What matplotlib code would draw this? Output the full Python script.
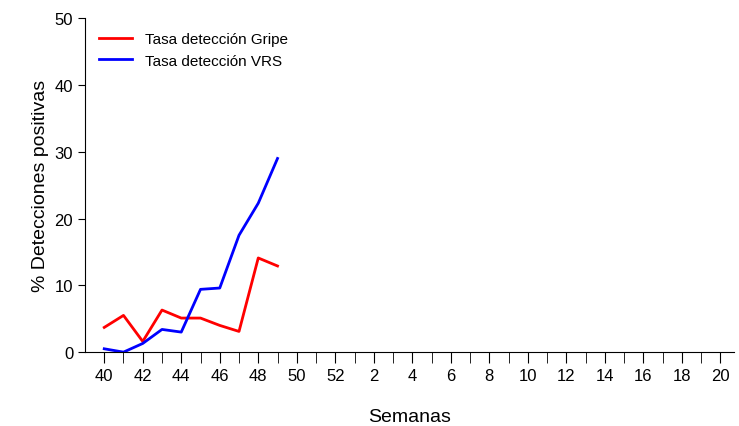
import numpy as np
import matplotlib.pyplot as plt

plt.rcParams["font.family"] = ["Liberation Sans", "DejaVu Sans"]

semanas = list(range(40, 53)) + list(range(1, 21))
gripe = [3.7, 5.5, 1.6, 6.3, 5.1, 5.1, 4.0, 3.1, 14.1, 12.9]
vrs = [0.5, 0.0, 1.3, 3.4, 3.0, 9.4, 9.6, 17.5, 22.3, 29.0]

x = np.arange(len(semanas))

fig, ax = plt.subplots(figsize=(7.39, 4.27), dpi=100)
fig.subplots_adjust(left=0.115, right=0.993, top=0.955, bottom=0.173)

ax.plot(x[:len(gripe)], gripe, color="red", lw=2, label="Tasa detección Gripe")
ax.plot(x[:len(vrs)], vrs, color="blue", lw=2, label="Tasa detección VRS")

ax.set_xlim(-1, len(semanas) - 0.3)
ax.set_ylim(0, 50)
ax.set_yticks([0, 10, 20, 30, 40, 50])
ax.set_xticks(x[::2])
ax.set_xticklabels([str(s) for s in semanas[::2]])
ax.set_xticks(x, minor=True)
ax.tick_params(axis="both", which="both", direction="out", labelsize=12)
ax.tick_params(axis="x", which="both", length=8)
ax.tick_params(axis="y", length=5)
ax.spines["top"].set_visible(False)
ax.spines["right"].set_visible(False)
ax.spines["left"].set_bounds(0, 50)

ax.set_xlabel("Semanas", fontsize=14, labelpad=18)
ax.set_ylabel("% Detecciones positivas", fontsize=14)
ax.legend(loc="upper left", frameon=False, fontsize=11, handlelength=2.2)

plt.savefig("out.png", dpi=100)
